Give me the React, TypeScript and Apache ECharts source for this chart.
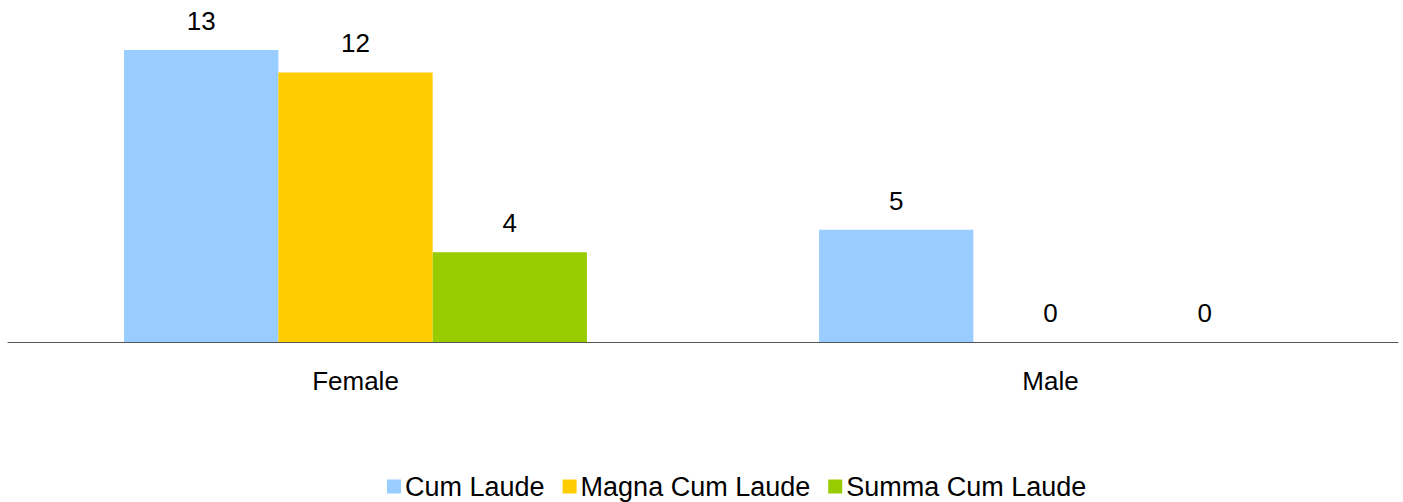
import React, { useEffect, useRef } from "react";
import * as echarts from "echarts";

const categories = ["Female", "Male"];
const seriesNames = ["Cum Laude", "Magna Cum Laude", "Summa Cum Laude"];
const cumLaude = [13, 5];
const magnaCumLaude = [12, 0];
const summaCumLaude = [4, 0];
const colors = ["#99CCFF", "#FFCC00", "#99CC00"];

export default function App() {
  const ref = useRef<HTMLDivElement>(null);
  useEffect(() => {
    if (!ref.current) return;
    const chart = echarts.init(ref.current, undefined, { renderer: "svg" });
    const font = "Liberation Sans, Arial, sans-serif";
    const data = [cumLaude, magnaCumLaude, summaCumLaude];
    chart.setOption({
      animation: false,
      textStyle: { fontFamily: font },
      grid: { left: 8, right: 5, top: 50, bottom: 160, containLabel: false },
      legend: {
        bottom: 2,
        left: 387,
        padding: 0,
        itemWidth: 14,
        itemHeight: 14,
        itemGap: 18,
        icon: "rect",
        textStyle: { fontSize: 27, color: "#000", fontFamily: font, padding: [0, 0, 0, -1] },
        data: seriesNames,
      },
      xAxis: {
        type: "category",
        data: categories,
        axisLine: { lineStyle: { color: "#555", width: 1 } },
        axisTick: { show: false },
        axisLabel: { fontSize: 26, color: "#000", margin: 26, fontFamily: font },
      },
      yAxis: {
        type: "value",
        min: 0,
        max: 13,
        show: false,
        splitLine: { show: false },
      },
      series: seriesNames.map((name, i) => ({
        name,
        type: "bar",
        data: data[i],
        barGap: "0%",
        barCategoryGap: "33.4%",
        itemStyle: { color: colors[i] },
        label: {
          show: true,
          position: "top",
          distance: 16,
          fontSize: 26,
          color: "#000",
          fontFamily: font,
        },
      })),
    });
    return () => chart.dispose();
  }, []);
  return (
    <div
      ref={ref}
      style={{ position: "absolute", left: 0, top: 0, width: 1403, height: 502 }}
    />
  );
}
